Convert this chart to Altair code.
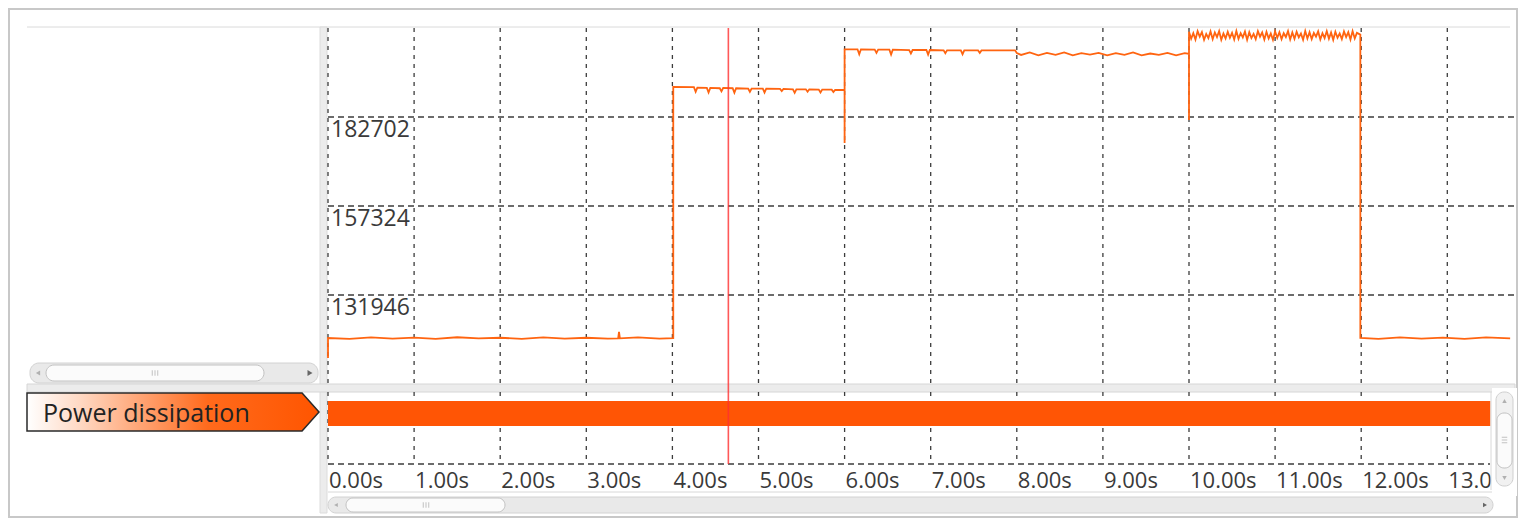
import altair as alt
import pandas as pd

# ---------------- data ----------------
channel_name = "Power dissipation"

time_ticks = [0, 1, 2, 3, 4, 5, 6, 7, 8, 9, 10, 11, 12, 13]
time_labels = ["0.00s", "1.00s", "2.00s", "3.00s", "4.00s", "5.00s", "6.00s",
               "7.00s", "8.00s", "9.00s", "10.00s", "11.00s", "12.00s", "13.00s"]

power_ticks = [131946, 157324, 182702]
power_labels = ["131946", "157324", "182702"]

# trace, segment by segment (time in s, power value)
seg0_t = [0.00, 0.00, 0.25, 0.50, 0.75, 1.00, 1.25, 1.50, 1.75, 2.00, 2.25, 2.50, 2.75, 3.00,
          3.25, 3.37, 3.38, 3.39, 3.60, 3.85, 4.01]
seg0_p = [113981, 119685, 119450, 119850, 119500, 119800, 119450, 119900, 119550, 119750,
          119450, 119850, 119500, 119750, 119500, 119600, 121400, 119600, 119850, 119500, 119650]

seg1_t = [4.01, 4.25, 4.27, 4.29, 4.40, 4.42, 4.44, 4.55, 4.57, 4.59, 4.70, 4.72, 4.74, 4.88,
          4.90, 4.92, 5.05, 5.07, 5.09, 5.25, 5.27, 5.29, 5.40, 5.42, 5.44, 5.55, 5.57, 5.59,
          5.70, 5.72, 5.74, 5.85, 5.87, 5.89, 6.00, 6.00]
seg1_p = [191300, 191200, 189900, 191100, 191000, 189700, 191000, 190900, 190000, 191000,
          190900, 189600, 190900, 190800, 189900, 190800, 190800, 189700, 190800, 190700,
          190100, 190700, 190600, 189600, 190600, 190600, 189900, 190600, 190500, 189700,
          190500, 190500, 189800, 190400, 190400, 175288]

seg2_t = [6.00, 6.15, 6.17, 6.19, 6.35, 6.37, 6.39, 6.52, 6.54, 6.56, 6.75, 6.77, 6.79, 6.95,
          6.97, 6.99, 7.15, 7.17, 7.19, 7.35, 7.37, 7.39, 7.55, 7.57, 7.59, 7.80, 7.98]
seg2_p = [202000, 202000, 200600, 202000, 201900, 201000, 201900, 201900, 200500, 201900,
          201800, 200800, 201800, 201800, 200500, 201800, 201700, 200900, 201700, 201700,
          200600, 201700, 201700, 201000, 201700, 201700, 201700]

seg3_t = [8.00, 8.05, 8.15, 8.25, 8.35, 8.45, 8.55, 8.65, 8.75, 8.85, 8.95, 9.05, 9.15, 9.25,
          9.35, 9.45, 9.55, 9.65, 9.75, 9.85, 9.95, 10.00, 10.00]
seg3_p = [200950, 200400, 201100, 200300, 201000, 200400, 201100, 200300, 200900, 200500,
          201000, 200300, 200900, 200400, 201100, 200300, 200800, 200400, 201000, 200300,
          200900, 200700, 181847]

seg4_t = [10.000, 10.025, 10.050, 10.075, 10.100, 10.125, 10.150, 10.175, 10.200, 10.225,
          10.250, 10.275, 10.300, 10.325, 10.350, 10.375, 10.400, 10.425, 10.450, 10.475,
          10.500, 10.525, 10.550, 10.575, 10.600, 10.625, 10.650, 10.675, 10.700, 10.725,
          10.750, 10.775, 10.800, 10.825, 10.850, 10.875, 10.900, 10.925, 10.950, 10.975,
          11.000, 11.025, 11.050, 11.075, 11.100, 11.125, 11.150, 11.175, 11.200, 11.225,
          11.250, 11.275, 11.300, 11.325, 11.350, 11.375, 11.400, 11.425, 11.450, 11.475,
          11.500, 11.525, 11.550, 11.575, 11.600, 11.625, 11.650, 11.675, 11.700, 11.725,
          11.750, 11.775, 11.800, 11.825, 11.850, 11.875, 11.900, 11.925, 11.950, 11.990]
seg4_p = [207000, 205000, 206600, 204800, 207200, 205600, 206900, 204700, 206400, 205200,
          207100, 204900, 206800, 205500, 207200, 204700, 206500, 205100, 207000, 205300,
          206700, 204800, 207200, 205000, 206600, 205400, 207100, 204700, 206900, 205200,
          206400, 204900, 207200, 205600, 206800, 204800, 207000, 205100, 206500, 204700,
          207100, 205300, 206900, 204900, 206600, 205500, 207200, 204800, 206800, 205000,
          207000, 205400, 206500, 204700, 207200, 205100, 206900, 204900, 206700, 205600,
          207100, 204800, 206600, 205200, 207200, 205000, 206800, 204700, 207000, 205300,
          206500, 204900, 207100, 205500, 206900, 204800, 207200, 205100, 206700, 206200]

seg5_t = [11.99, 12.20, 12.45, 12.70, 12.95, 13.20, 13.45, 13.73]
seg5_p = [119700, 119450, 119850, 119500, 119800, 119450, 119850, 119600]

cursor_t = [4.65]
bar_start = [0.0]
bar_end = [13.5]

# ---------------- styling ----------------
FONT = "Open Sans"
ORANGE_LINE = "#FF6410"
ORANGE_BAR = "#FF5505"
GRID = "#3c3c3c"
TEXT = "#3a3a3a"

X_SCALE = alt.Scale(domain=[0, 14], range=[320, 1525.4], nice=False, zero=False)
Y_SCALE = alt.Scale(domain=[106568, 208080], range=[376, 20], nice=False, zero=False)

trace_t = seg0_t + seg1_t + seg2_t + seg3_t + seg4_t + seg5_t
trace_p = seg0_p + seg1_p + seg2_p + seg3_p + seg4_p + seg5_p

one = pd.DataFrame({"d": [0]})
ticks_df = pd.DataFrame({"t": time_ticks, "label": time_labels})
pticks_df = pd.DataFrame({"p": power_ticks, "label": power_labels, "t": [0] * len(power_ticks)})
trace_df = pd.DataFrame({"t": trace_t, "p": trace_p, "i": list(range(len(trace_t)))})
cursor_df = pd.DataFrame({"t": cursor_t})
bar_df = pd.DataFrame({"t": bar_start, "t2": bar_end})
name_df = pd.DataFrame({"name": [channel_name]})

xq = alt.X("t:Q", scale=X_SCALE, axis=None)
yq = alt.Y("p:Q", scale=Y_SCALE, axis=None)


def box(x, x2, y, y2, fill, stroke=None, radius=0, sw=1):
    kw = dict(fill=fill, cornerRadius=radius)
    if stroke:
        kw.update(stroke=stroke, strokeWidth=sw)
    return alt.Chart(one).mark_rect(**kw).encode(
        x=alt.value(x), x2=alt.value(x2), y=alt.value(y), y2=alt.value(y2))


def tri(x, y, shape, color="#999", size=22):
    return alt.Chart(one).mark_point(shape=shape, size=size, filled=True, color=color,
                                     opacity=1).encode(x=alt.value(x), y=alt.value(y))


GRIP_V = "M-1,-1 L-1,1 M0,-1 L0,1 M1,-1 L1,1"
GRIP_H = "M-1,-1 L1,-1 M-1,0 L1,0 M-1,1 L1,1"


def grip(x, y, path):
    return alt.Chart(one).mark_point(shape=path, size=30, filled=False, stroke="#b4b4b4",
                                     strokeWidth=0.8, opacity=1).encode(
        x=alt.value(x), y=alt.value(y))


# outer frame & panels
frame = box(1, 1509, 1, 509, "white", "#c8c8c8", 0, 2)
top_line = alt.Chart(one).mark_rule(color="#dadada", strokeWidth=1).encode(
    x=alt.value(19), x2=alt.value(1502), y=alt.value(19))
vsplit = box(312, 319, 19, 505, "#ececec", "#dcdcdc", 0, 1)
hsplit = box(19, 1507, 376, 384, "#ececec", "#d6d6d6", 0, 1)

# left horizontal scrollbar
lsb_track = box(22, 310, 355, 375, "#e9e9e9", "#d2d2d2", 9, 1)
lsb_thumb = box(38, 256, 357, 373, "#fbfbfb", "#c2c2c2", 8, 1)
lsb_l = tri(30, 365, "triangle-left", "#b0b0b0", 24)
lsb_r = tri(302, 365, "triangle-right", "#666666", 34)
lsb_g = grip(147, 365, GRIP_V)

# grid lines
vgrid_up = alt.Chart(ticks_df).mark_rule(color=GRID, strokeWidth=1.3, strokeDash=[4, 5]).encode(
    x=xq, y=alt.value(20), y2=alt.value(376))
vgrid_lo = alt.Chart(ticks_df).mark_rule(color=GRID, strokeWidth=1.3, strokeDash=[4, 5]).encode(
    x=xq, y=alt.value(384), y2=alt.value(456))
hgrid = alt.Chart(pticks_df).mark_rule(color=GRID, strokeWidth=1.3, strokeDash=[6, 4]).encode(
    x=xq, x2=alt.value(1507), y=yq)
lo_line = alt.Chart(one).mark_rule(color=GRID, strokeWidth=1.3, strokeDash=[6, 4]).encode(
    x=alt.value(320), x2=alt.value(1482), y=alt.value(456))

ptick_text = alt.Chart(pticks_df).mark_text(
    align="left", baseline="top", dx=3, dy=2, fontSize=23, font=FONT, color=TEXT).encode(
    x=xq, y=yq, text="label:N")

# the bar of the lower track and the trace
bar = alt.Chart(bar_df).mark_rect(color=ORANGE_BAR).encode(
    x=xq, x2="t2:Q", y=alt.value(393), y2=alt.value(418))
trace = alt.Chart(trace_df).mark_line(color=ORANGE_LINE, strokeWidth=1.8).encode(
    x=xq, y=yq, order="i:Q")
cursor = alt.Chart(cursor_df).mark_rule(color="#FF3030", strokeWidth=1.6, opacity=0.8).encode(
    x=xq, y=alt.value(20), y2=alt.value(456))

time_text = alt.Chart(ticks_df).mark_text(
    align="left", baseline="middle", dx=1, fontSize=22, font=FONT, color=TEXT).encode(
    x=xq, y=alt.value(473), text="label:N")

# channel label (arrow shaped tag)
arrow_path = "M-1,-0.13 L0.884,-0.13 L1,0 L0.884,0.13 L-1,0.13 Z"
grad = alt.Gradient(gradient="linear",
                    stops=[alt.GradientStop(color="#ffffff", offset=0),
                           alt.GradientStop(color="#ffd9c4", offset=0.18),
                           alt.GradientStop(color="#ff6a1c", offset=0.62),
                           alt.GradientStop(color="#ff5500", offset=1)],
                    x1=0, x2=1, y1=0, y2=0)
tag = alt.Chart(one).mark_point(shape=arrow_path, size=292 * 292, filled=True, fill=grad,
                                stroke="#2a2a2a", strokeWidth=1.5, opacity=1).encode(
    x=alt.value(165), y=alt.value(404))
tag_text = alt.Chart(name_df).mark_text(align="left", baseline="middle", fontSize=25, font=FONT,
                                        color="#222222").encode(
    x=alt.value(35), y=alt.value(406), text="name:N")

# right vertical scrollbar and bottom scrollbar
rsb_bg = box(1484, 1509, 380, 488, "white")
rsb_track = box(1488, 1505, 384, 478, "#f1f1f1", "#cfcfcf", 8, 1)
rsb_thumb = box(1489, 1504, 405, 460, "#fbfbfb", "#c2c2c2", 7, 1)
rsb_u = tri(1496.5, 393, "triangle-up", "#b0b0b0", 20)
rsb_d = tri(1496.5, 470, "triangle-down", "#b0b0b0", 20)
rsb_g = grip(1496.5, 432, GRIP_H)
lo_frame = alt.Chart(one).mark_rule(color="#d8d8d8", strokeWidth=1).encode(
    x=alt.value(1483), y=alt.value(384), y2=alt.value(482))
lo_bottom = alt.Chart(one).mark_rule(color="#d8d8d8", strokeWidth=1).encode(
    x=alt.value(320), x2=alt.value(1484), y=alt.value(484))
bsb_track = box(320, 1485, 489, 505, "#e9e9e9", "#d2d2d2", 8, 1)
bsb_thumb = box(338, 497, 490, 504, "#fbfbfb", "#c2c2c2", 7, 1)
bsb_l = tri(328, 497, "triangle-left", "#b0b0b0", 18)
bsb_r = tri(1477, 497, "triangle-right", "#666666", 22)
bsb_g = grip(418, 497, GRIP_V)

chart = alt.layer(
    frame, top_line, vsplit, hsplit,
    lsb_track, lsb_thumb, lsb_l, lsb_r, lsb_g,
    vgrid_up, vgrid_lo, hgrid, lo_line, ptick_text,
    bar, trace, cursor, time_text,
    tag, tag_text,
    rsb_bg, lo_frame, lo_bottom, rsb_track, rsb_thumb, rsb_u, rsb_d, rsb_g,
    bsb_track, bsb_thumb, bsb_l, bsb_r, bsb_g,
).properties(
    width=1510, height=510, autosize="none", padding=0
).configure_view(stroke=None)

chart.save("out.html", embed_options={"renderer": "svg", "actions": False})
